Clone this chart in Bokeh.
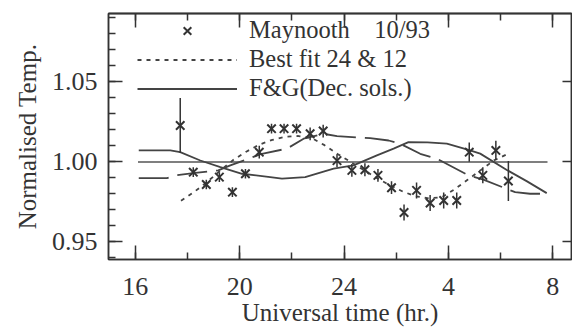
from bokeh.plotting import figure
from bokeh.models import (FixedTicker, LinearAxis, Range1d, Legend, LegendItem,
                          PrintfTickFormatter)
from bokeh.embed import file_html
from bokeh.resources import INLINE

# Maynooth 10/93 normalised temperatures (UT hours, 24 -> 0h, 28 -> 4h, 32 -> 8h)
ut = [17.72, 18.22, 18.72, 19.22, 19.72, 20.22, 20.75, 21.22, 21.70, 22.18, 22.70, 23.20, 23.73,
      24.30, 24.80, 25.30, 25.82, 26.30, 26.78, 27.30, 27.82, 28.32, 28.80, 29.32, 29.82, 30.30]
temp = [1.0228, 0.9936, 0.9859, 0.9905, 0.9811, 0.9926, 1.0061, 1.0208, 1.0208, 1.0208, 1.0176,
        1.0193, 1.0008, 0.9947, 0.9951, 0.9916, 0.9839, 0.9684, 0.9822, 0.9743, 0.9759, 0.9759,
        1.0061, 0.9916, 1.0072, 0.9881]
err = [0.0172, 0.003, 0.003, 0.003, 0.003, 0.003, 0.004, 0.003, 0.003, 0.003, 0.004, 0.004, 0.004,
       0.004, 0.004, 0.004, 0.004, 0.005, 0.005, 0.005, 0.005, 0.005, 0.006, 0.005, 0.006, 0.0125]

# Best fit 24 & 12 (dotted)
bf_t = [17.75, 18.25, 18.75, 19.25, 19.75, 20.25, 20.75, 21.25, 21.75, 22.25, 22.75, 23.25, 23.75,
        24.25, 24.75, 25.25, 25.75, 26.25, 26.75, 27.25, 27.75, 28.25, 28.75, 29.25, 29.75, 30.25]
bf_v = [0.9757, 0.9812, 0.9875, 0.9945, 1.0012, 1.0064, 1.0108, 1.0138, 1.0157, 1.0162, 1.0150,
        1.0105, 1.0050, 1.0000, 0.9950, 0.9900, 0.9855, 0.9815, 0.9785, 0.9772, 0.9780, 0.9830,
        0.9890, 0.9950, 1.0010, 1.0048]

# F&G (Dec. sols.) solid
fg_t = [16.13, 17.34, 17.72, 18.49, 19.26, 20.09, 21.17, 21.62, 22.51, 23.60, 24.36, 25.26,
        25.90, 26.47, 27.20, 27.94, 28.77, 29.22, 30.24, 31.00, 31.77]
fg_v = [1.0072, 1.0072, 1.0061, 1.0009, 0.9968, 0.9926, 0.9905, 0.9895, 0.9905, 0.9958, 0.9978,
        1.0041, 1.0083, 1.0124, 1.0122, 1.0114, 1.0075, 1.0052, 0.9950, 0.9880, 0.9805]

# second model curve (long dashes)
ld_t = [16.13, 17.21, 17.53, 18.30, 19.18, 19.64, 20.85, 21.81, 22.45, 23.21, 23.73, 25.00,
        25.71, 26.15, 26.92, 27.56, 28.77, 29.34, 30.56, 31.13, 31.84]
ld_v = [0.9899, 0.9899, 0.9916, 0.9931, 0.9947, 0.9978, 1.0051, 1.0083, 1.0145, 1.0176, 1.0161,
        1.0149, 1.0134, 1.0114, 1.0051, 1.0020, 0.9916, 0.9889, 0.9811, 0.9801, 0.9801]

# reference level
ref_t = [16.10, 31.80]
ref_v = [1.00, 1.00]

x_major = [16, 20, 24, 28, 32]
x_minor = [16, 18, 20, 22, 24, 26, 28, 30, 32]
x_labels = ["16", "20", "24", "4", "8"]
y_major = [0.95, 1.00, 1.05]
y_minor = [0.94, 0.95, 0.96, 0.97, 0.98, 0.99, 1.00, 1.01, 1.02, 1.03, 1.04, 1.05, 1.06, 1.07,
           1.08, 1.09]

FONT = "Liberation Serif"
INK = "#333333"
LINE = "#444444"

p = figure(width=572, height=329, x_range=Range1d(14.97, 32.72), y_range=Range1d(0.939, 1.0928),
           output_backend="svg", toolbar_location=None,
           min_border_left=108, min_border_right=1, min_border_top=13, min_border_bottom=70)
p.grid.visible = False
p.outline_line_color = INK
p.outline_line_width = 1.5
p.background_fill_color = "white"
p.border_fill_color = "white"


def style_axis(ax):
    ax.axis_line_color = INK
    ax.axis_line_width = 1.5
    ax.major_tick_line_color = INK
    ax.minor_tick_line_color = INK
    ax.major_tick_line_width = 1.5
    ax.minor_tick_line_width = 1.5
    ax.major_tick_out = 0
    ax.minor_tick_out = 0
    ax.major_tick_in = 14
    ax.minor_tick_in = 7
    ax.major_label_text_font = FONT
    ax.major_label_text_font_size = "26px"
    ax.major_label_text_color = INK
    ax.axis_label_text_font = FONT
    ax.axis_label_text_font_size = "25px"
    ax.axis_label_text_font_style = "normal"
    ax.axis_label_text_color = INK


xa = p.xaxis[0]
xa.ticker = FixedTicker(ticks=x_major, minor_ticks=x_minor)
xa.major_label_overrides = {v: s for v, s in zip(x_major, x_labels)}
xa.axis_label = "Universal time (hr.)"
style_axis(xa)
xa.major_label_standoff = 18
xa.axis_label_standoff = 1

ya = p.yaxis[0]
ya.ticker = FixedTicker(ticks=y_major, minor_ticks=y_minor)
ya.formatter = PrintfTickFormatter(format="%.2f")
ya.axis_label = "Normalised Temp."
style_axis(ya)
ya.major_label_standoff = 11
ya.axis_label_standoff = 8

# mirrored tick marks on the top and right edges (no labels)
top_minor = LinearAxis(ticker=FixedTicker(ticks=[], minor_ticks=x_minor))
style_axis(top_minor)
top_minor.minor_tick_in = 7
p.add_layout(top_minor, "above")
top_major = LinearAxis(ticker=FixedTicker(ticks=[], minor_ticks=x_major))
style_axis(top_major)
top_major.minor_tick_in = 14
p.add_layout(top_major, "above")

right = LinearAxis(ticker=FixedTicker(ticks=[], minor_ticks=y_major))
style_axis(right)
right.minor_tick_in = 9
p.add_layout(right, "right")

p.line(ref_t, ref_v, line_color="#555555", line_width=1.5)
fg_r = p.line(fg_t, fg_v, line_color=LINE, line_width=1.8)
p.line(ld_t, ld_v, line_color=LINE, line_width=1.8, line_dash="30 9")
bf_r = p.line(bf_t, bf_v, line_color=LINE, line_width=1.8, line_dash="4 5")
lo = [t - e for t, e in zip(temp, err)]
hi = [t + e for t, e in zip(temp, err)]
p.segment(x0=ut, y0=lo, x1=ut, y1=hi, line_color=INK, line_width=1.5)
sc = p.scatter(ut, temp, marker="x", size=12, line_color=INK, line_width=2)

legend = Legend(items=[
    LegendItem(label="Maynooth\u00a0\u00a0\u00a0\u00a010/93", renderers=[sc]),
    LegendItem(label="Best fit 24 & 12", renderers=[bf_r]),
    LegendItem(label="F&G(Dec. sols.)", renderers=[fg_r]),
], location=(29, 157))
legend.border_line_color = None
legend.background_fill_alpha = 0
legend.label_text_font = FONT
legend.label_text_font_size = "24.5px"
legend.label_text_color = INK
legend.glyph_width = 100
legend.glyph_height = 27
legend.label_height = 27
legend.spacing = 1
legend.padding = 0
legend.margin = 0
legend.label_standoff = 12
p.add_layout(legend)

open("out.html", "w").write(file_html(p, INLINE))
